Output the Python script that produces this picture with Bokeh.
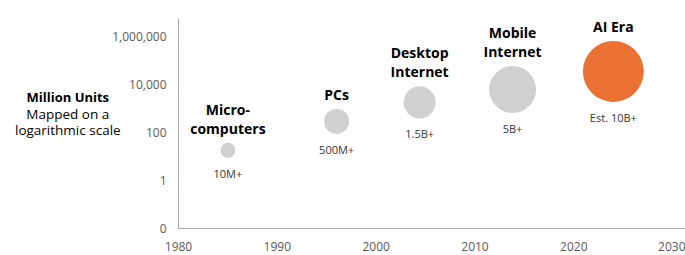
from bokeh.plotting import figure
from bokeh.models import ColumnDataSource, FixedTicker, Label, Range1d
from bokeh.core.properties import value
from bokeh.embed import file_html
from bokeh.resources import INLINE

# ---- data ----
eras = ["Micro-\ncomputers", "PCs", "Desktop\nInternet", "Mobile\nInternet", "AI Era"]
years = [1985.0, 1996.0, 2004.4, 2013.8, 2024.0]
units_millions = [18, 290, 1800, 6200, 35000]
value_labels = ["10M+", "500M+", "1.5B+", "5B+", "Est. 10B+"]
y_ticks = [0.01, 1, 100, 10000, 1000000]
y_tick_labels = ["0", "1", "100", "10,000", "1,000,000"]
x_ticks = [1980, 1990, 2000, 2010, 2020, 2030]

# ---- styles ----
bubble_px = [15, 25, 32, 47, 61]
colors = ["#D0D0D0", "#D0D0D0", "#D0D0D0", "#D0D0D0", "#E97132"]
FONT = "Open Sans"

src = ColumnDataSource(dict(
    x=years, y=units_millions, name=eras, val=value_labels,
    size=bubble_px, color=colors,
    name_off=[-(s / 2 + 5) for s in bubble_px],
    val_off=[s / 2 + 8 for s in bubble_px],
))

p = figure(width=685, height=255, output_backend="svg", toolbar_location=None,
           y_axis_type="log",
           x_range=Range1d(1980, 2031.3), y_range=Range1d(0.01, 10 ** 6.75),
           min_border_left=178, min_border_right=0, min_border_top=18,
           min_border_bottom=27)
p.outline_line_color = None
p.grid.grid_line_color = None
p.background_fill_color = "white"
p.border_fill_color = "white"

for ax in (p.xaxis[0], p.yaxis[0]):
    ax.axis_line_color = "#A6A6A6"
    ax.axis_line_width = 1
    ax.major_tick_line_color = None
    ax.minor_tick_line_color = None
    ax.major_tick_in = 0
    ax.major_tick_out = 0
    ax.major_label_text_color = "#595959"
    ax.major_label_text_font = FONT
    ax.major_label_text_font_size = "12px"

p.xaxis.ticker = FixedTicker(ticks=x_ticks)
p.xaxis.major_label_standoff = 13
p.yaxis.ticker = FixedTicker(ticks=y_ticks)
p.yaxis.major_label_overrides = {t: l for t, l in zip(y_ticks, y_tick_labels)}
p.yaxis.major_label_standoff = 12

p.scatter("x", "y", source=src, size="size", fill_color="color",
          line_color=None, marker="circle")

p.text("x", "y", text="name", source=src, y_offset="name_off",
       text_align="center", text_baseline="bottom",
       text_font=value(FONT), text_font_style="bold",
       text_font_size="14px", text_color="#000000", text_line_height=1.0)
p.text("x", "y", text="val", source=src, y_offset="val_off",
       text_align="center", text_baseline="top",
       text_font=value(FONT), text_font_size="11px", text_color="#333333")

# left-side annotation (side panels so that it is not clipped to the frame)
ann_x = 1968.8
p.add_layout(Label(x=ann_x, y=10 ** 2.4375, text="Mapped on a\nlogarithmic scale",
                   text_align="center", text_baseline="middle", text_font=FONT,
                   text_font_size="13.5px", text_color="#000000",
                   text_line_height=0.93), "left")
p.add_layout(Label(x=ann_x, y=10 ** 3.5, text="Million Units",
                   text_align="center", text_baseline="middle", text_font=FONT,
                   text_font_style="bold", text_font_size="13px",
                   text_color="#000000"), "above")

open("out.html", "w").write(file_html(p, INLINE))
